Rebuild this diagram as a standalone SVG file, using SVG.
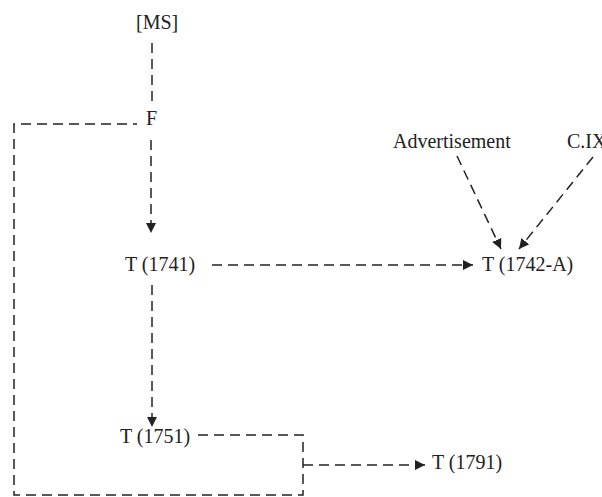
<svg xmlns="http://www.w3.org/2000/svg" width="602" height="497" viewBox="0 0 602 497">
<style>
text{font-family:"Liberation Serif","Times New Roman",serif;font-size:20px;fill:#222}
.c{fill:none;stroke:#222;stroke-width:1.5;stroke-dasharray:10 6}
</style>
<defs>
<marker id="ah" viewBox="0 0 10 10" refX="10" refY="5" markerWidth="10" markerHeight="10" markerUnits="userSpaceOnUse" orient="auto">
<path d="M0,0 L10,5 L0,10 z" fill="#222"/>
</marker>
</defs>
<rect width="602" height="497" fill="#fff"/>
<g id="connectors">
<path class="c" d="M152,43 V107"/>
<path class="c" d="M198,435 H303 V495 H14 V124 H137"/>
<path class="c" d="M151,140 V233" marker-end="url(#ah)"/>
<path class="c" d="M212,265 H473" marker-end="url(#ah)"/>
<path class="c" d="M457,156 L501,249" marker-end="url(#ah)"/>
<path class="c" d="M593,157 L519,249" marker-end="url(#ah)"/>
<path class="c" d="M152,285 V427" marker-end="url(#ah)"/>
<path class="c" d="M303,465 H425" marker-end="url(#ah)"/>
</g>
<g id="n-ms"><text x="136" y="29">[MS]</text></g>
<g id="n-f"><text x="146" y="125">F</text></g>
<g id="n-adv"><text x="393" y="148">Advertisement</text></g>
<g id="n-cix"><text x="567" y="148">C.IX</text></g>
<g id="n-t1741"><text x="125" y="271">T (1741)</text></g>
<g id="n-t1742a"><text x="482" y="271">T (1742-A)</text></g>
<g id="n-t1751"><text x="120" y="443">T (1751)</text></g>
<g id="n-t1791"><text x="432" y="469">T (1791)</text></g>
</svg>
